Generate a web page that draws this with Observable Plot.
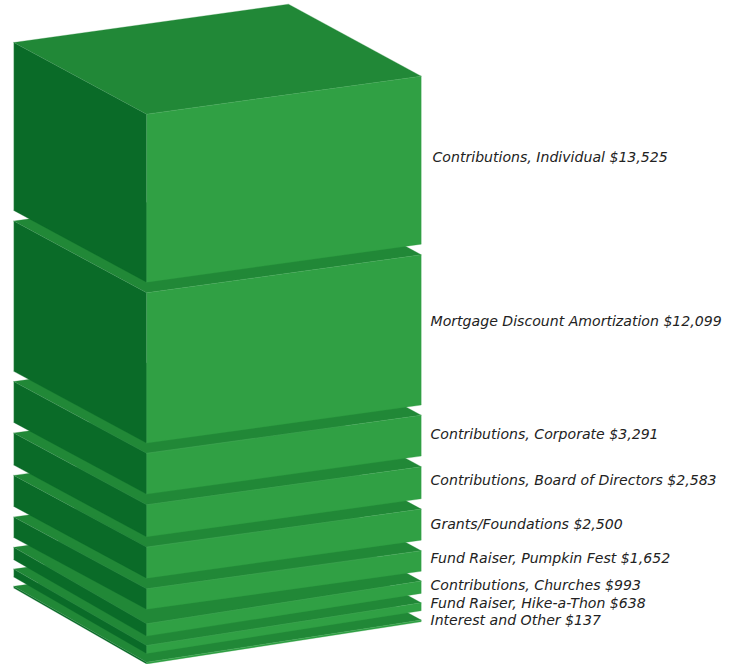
<!DOCTYPE html>
<html>
<head>
<meta charset="utf-8">
<script src="https://cdn.jsdelivr.net/npm/d3@7"></script>
<script src="https://cdn.jsdelivr.net/npm/@observablehq/plot@0.6"></script>
<style>
html,body{margin:0;padding:0;background:#fff}
svg{display:block}
</style>
</head>
<body>
<div id="chart"></div>
<script>
// Data
const categories = ["Contributions, Individual","Mortgage Discount Amortization","Contributions, Corporate","Contributions, Board of Directors","Grants/Foundations","Fund Raiser, Pumpkin Fest","Contributions, Churches","Fund Raiser, Hike-a-Thon","Interest and Other"];
const amounts = [13525,12099,3291,2583,2500,1652,993,638,137];

// Layout of the projected box (not data)
const W = 734, H = 664;
const dollarsToPx = 0.01242;
const originPx = 113.7;
const gapsPx = [10.6,10.2,10.6,10.3,10.6,9.8,9.4,9.3];
const frontDropPx = [0,0,0,0,0,0,4.7,4.7,4.2];
const labelYPx = [157,320.5,433.5,479.5,523.5,558,585,602.5,620];
const labelXPx = [432,430,430,430,430,430,430,430,430];
const corner = {left:{x:13.3,dy:-71.7}, front:{x:146.2,dy:0}, right:{x:420.7,dy:-38}, back:{x:288,dy:-110}};
const colors = {front:"#30a044", side:"#0a6b28", top:"#218837", edge:"#5cb06e"};

const toLevel = px => px / dollarsToPx;

// stacked levels expressed in dollars
let level = 0;
const blocks = amounts.map((v,i) => {
  const b = {i, name:categories[i], value:v, top:level, bottom:level+v};
  level = b.bottom + (i < gapsPx.length ? toLevel(gapsPx[i]) : 0);
  return b;
});

const pt = (b,c,which,face) => ({
  block:b.i, face,
  x:corner[c].x,
  y:b[which] + toLevel(corner[c].dy + (c==="front" ? frontDropPx[b.i] : 0))
});
const order = blocks.slice().reverse();
const faces = order.flatMap(b => [
  ...["left","back","right","front"].map(c => pt(b,c,"top","top")),
  ...[["left","top"],["front","top"],["front","bottom"],["left","bottom"]].map(([c,w]) => pt(b,c,w,"side")),
  ...[["front","top"],["right","top"],["right","bottom"],["front","bottom"]].map(([c,w]) => pt(b,c,w,"front"))
]);
const edges = order.flatMap(b => [
  ...[["left","bottom"],["left","top"],["front","top"],["right","top"]].map(([c,w]) => pt(b,c,w,"e1")),
  ...[["front","top"],["front","bottom"]].map(([c,w]) => pt(b,c,w,"e2"))
]);

const labels = blocks.map(b => ({
  text: `${b.name} $${d3.format(",")(b.value)}`,
  x: labelXPx[b.i],
  y: toLevel(labelYPx[b.i]-originPx)
}));

const marks = [];
order.forEach(b => {
  for (const [f,c] of [["top",colors.top],["side",colors.side],["front",colors.front]]) {
    marks.push(Plot.line(faces.filter(d => d.block===b.i && d.face===f), {x:"x", y:"y", fill:c, stroke:c, strokeWidth:0.3}));
  }
  marks.push(Plot.line(edges.filter(d => d.block===b.i && d.face==="e1"), {x:"x", y:"y", stroke:colors.edge, strokeWidth:0.3}));
  marks.push(Plot.line(edges.filter(d => d.block===b.i && d.face==="e2"), {x:"x", y:"y", stroke:colors.edge, strokeWidth:0.3}));
});
marks.push(Plot.text(labels, {x:"x", y:"y", text:"text", textAnchor:"start", fill:"#222", fontStyle:"italic", fontSize:14.1, fontFamily:"'DejaVu Sans', sans-serif"}));

const chart = Plot.plot({
  width:W, height:H, margin:0,
  style:{background:"#fff"},
  x:{domain:[0,W], range:[0,W], axis:null},
  y:{domain:[toLevel(-originPx), toLevel(H-originPx)], range:[0,H], axis:null},
  marks
});
document.getElementById("chart").appendChild(chart);
</script>
</body>
</html>
